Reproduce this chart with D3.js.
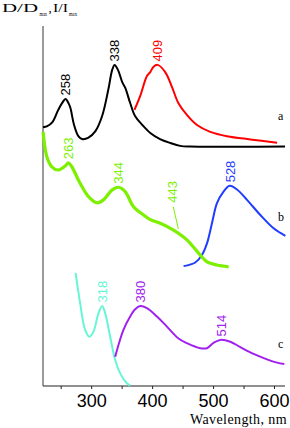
<!DOCTYPE html>
<html>
<head>
<meta charset="utf-8">
<script src="https://cdn.jsdelivr.net/npm/d3@7"></script>
<style>
  body { margin: 0; background: #fff; }
  svg { display: block; }
</style>
</head>
<body>
<script>
// spectra: [wavelength nm, normalised value incl. vertical offset]
const curveA_abs = [[221,.719],[228,.722],[236.5,.733],[246,.767],[252,.785],[258,.797],[263,.785],[266,.772],[272,.725],[279,.694],[285,.686],[295,.689],[307,.708],[318,.75],[328,.822],[334.5,.878],[338.5,.892],[344,.878],[351,.844],[356,.828],[364,.786],[372,.75],[384,.725],[397,.703],[413,.686],[430,.675],[446,.667],[463,.665],[618,.665]];
const curveA_em = [[371,.767],[380.5,.806],[391.5,.861],[397,.872],[402,.886],[409,.892],[421.5,.872],[432.5,.831],[443,.786],[457,.753],[473.6,.725],[495.4,.706],[522.8,.694],[561,.685],[605,.676]];
const curveB_abs = [[221.2,.706],[227.3,.637],[235.5,.609],[246.3,.6],[257.3,.611],[262.7,.62],[268.3,.609],[281.9,.563],[295.6,.526],[309.4,.509],[320.2,.517],[334,.544],[344.8,.552],[355.8,.54],[369.5,.498],[385.9,.475],[396.9,.462],[413.3,.452],[435.1,.433],[457.1,.406],[476.2,.369],[490,.345],[506.4,.336],[525.5,.331]];
const curveB_em = [[451.6,.333],[470.8,.343],[481.8,.364],[490,.396],[498.2,.452],[506.4,.508],[517.2,.54],[527.1,.556],[539.2,.546],[555.7,.517],[577.5,.475],[599.3,.438],[618.6,.417]];
const curveC_abs = [[274.5,.314],[281.9,.23],[290.1,.156],[297.2,.137],[303.8,.151],[312,.202],[318.1,.222],[323,.202],[331.2,.137],[339.4,.072],[347.6,.035],[358.6,.0075],[364,.0014]];
const curveC_em = [[339.4,.081],[344.8,.114],[353,.156],[364,.193],[372.2,.213],[380.5,.222],[391.5,.216],[407.9,.193],[424.3,.165],[443.3,.132],[457.1,.119],[479,.105],[490,.105],[500.8,.12],[511.8,.128],[528.2,.123],[544.7,.108],[566.5,.089],[588.4,.074],[604.9,.065],[616.9,.061]];

const peakText = ["258","338","409","263","344","443","528","318","380","514"];
const peakWl   = [258, 338, 409, 263, 344, 443, 528, 318, 380, 514];
const peakVal  = [.797,.892,.892,.62,.552,.42,.556,.222,.222,.128];
const peakCol  = ["#000","#000","#ff0000","#7cf000","#7cf000","#7cf000","#1f3cff","#66f5d6","#a020f0","#a020f0"];

const xTicks = [300, 400, 500, 600];
const xMinor = [250, 350, 450, 550];
const letters = ["a","b","c"];
const letterVal = [.738,.458,.106];

var width = 290, height = 428;
var x = d3.scaleLinear().domain([221, 618]).range([43, 285]);
var y = d3.scaleLinear().domain([0, 1]).range([386, 26]);

var svg = d3.select("body").append("svg")
  .attr("width", width)
  .attr("height", height);

// axes
svg.append("line")
  .attr("x1", 43).attr("x2", 43).attr("y1", y(1)).attr("y2", y(0))
  .attr("stroke", "#7a7a7a").attr("stroke-width", 1.5);

var xAxis = d3.axisBottom(x).tickValues(xTicks.concat(xMinor)).tickSize(3)
  .tickFormat(d => xTicks.includes(d) ? d : "");
var gx = svg.append("g").attr("transform", "translate(0," + y(0) + ")").call(xAxis);
gx.select(".domain").attr("d", "M43,0H285").attr("stroke", "#222").attr("stroke-width", 1.2);
gx.selectAll(".tick line").attr("stroke", "#222");
gx.selectAll(".tick text")
  .attr("font-family", "Liberation Sans, Arial, sans-serif")
  .attr("font-size", 18).attr("fill", "#000").attr("dy", "0.84em");

svg.append("text")
  .attr("x", 287).attr("y", 424).attr("text-anchor", "end")
  .attr("font-family", "Liberation Serif, serif").attr("font-size", 14)
  .attr("letter-spacing", 0.4)
  .text("Wavelength, nm");

// y title with subscripts
var yt = svg.append("text").attr("font-family", "Liberation Serif, serif").attr("fill", "#000");
yt.append("tspan").attr("x", 2).attr("y", 12).attr("font-size", 13)
  .attr("textLength", 36).attr("lengthAdjust", "spacingAndGlyphs").text("D/D");
yt.append("tspan").attr("x", 39.5).attr("y", 16).attr("font-size", 6)
  .attr("textLength", 7.5).attr("lengthAdjust", "spacingAndGlyphs").text("max");
yt.append("tspan").attr("x", 48.5).attr("y", 12).attr("font-size", 13).text(",");
yt.append("tspan").attr("x", 53).attr("y", 12).attr("font-size", 13)
  .attr("textLength", 15).attr("lengthAdjust", "spacingAndGlyphs").text("I/I");
yt.append("tspan").attr("x", 69).attr("y", 16).attr("font-size", 6)
  .attr("textLength", 8).attr("lengthAdjust", "spacingAndGlyphs").text("max");

// curves
var line = d3.line()
  .x(d => x(d[0]))
  .y(d => y(d[1]))
  .curve(d3.curveCatmullRom.alpha(0.5));

var series = [
  { data: curveA_abs, color: "#000", w: 2 },
  { data: curveA_em, color: "#ff0000", w: 2 },
  { data: curveB_em, color: "#1f3cff", w: 2 },
  { data: curveB_abs, color: "#7cf000", w: 3.2 },
  { data: curveC_abs, color: "#66f5d6", w: 2 },
  { data: curveC_em, color: "#a020f0", w: 2 }
];

svg.selectAll("path.curve")
  .data(series)
  .enter().append("path")
  .attr("class", "curve")
  .attr("d", d => line(d.data))
  .attr("fill", "none")
  .attr("stroke", d => d.color)
  .attr("stroke-width", d => d.w)
  .attr("stroke-linejoin", "round");

// peak labels (rotated)
peakText.forEach(function (t, i) {
  var px = x(peakWl[i]), py = y(peakVal[i]);
  var lead = t === "443";
  if (lead) {
    svg.append("line")
      .attr("x1", px - 5).attr("y1", py - 28)
      .attr("x2", px).attr("y2", py - 6)
      .attr("stroke", peakCol[i]).attr("stroke-width", 1);
  }
  var lx = lead ? px - 6 : px, ly = lead ? py - 32 : py - 3.5;
  svg.append("text")
    .attr("transform", "translate(" + lx + "," + ly + ") rotate(-90)")
    .attr("dy", "0.36em")
    .attr("font-family", "Liberation Sans, Arial, sans-serif")
    .attr("font-size", 13)
    .attr("fill", peakCol[i])
    .text(t);
});

// series letters
svg.selectAll("text.letter")
  .data(letters)
  .enter().append("text")
  .attr("class", "letter")
  .attr("x", 278)
  .attr("y", (d, i) => y(letterVal[i]))
  .attr("font-family", "Liberation Serif, serif")
  .attr("font-size", 12)
  .text(d => d);
</script>
</body>
</html>
